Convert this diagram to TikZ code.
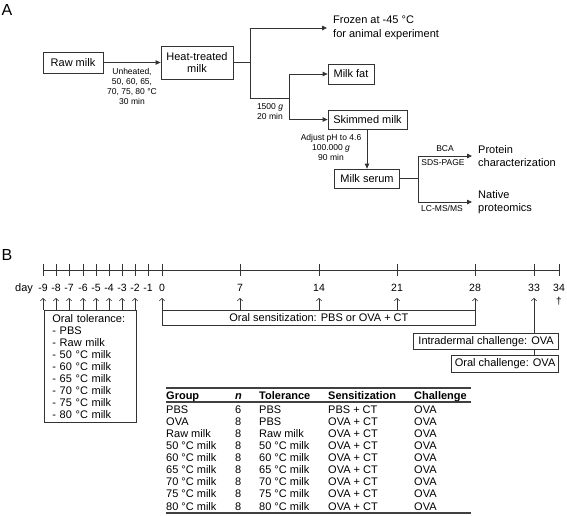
\documentclass[tikz,border=0pt]{standalone}
\usepackage{fontspec}
\setmainfont{Liberation Sans}
\usetikzlibrary{arrows.meta,positioning}

\begin{document}
\begin{tikzpicture}[x=1pt, y=-1pt]
    \tikzset{
        txt/.style={font=\fontsize{11}{13.5}\selectfont, align=left, inner xsep=6pt, inner ysep=0pt},
        box/.style={draw=black!80, line width=0.8pt, inner sep=2pt, font=\fontsize{11}{12}\selectfont, align=center},
        small/.style={font=\fontsize{8.5}{10}\selectfont, align=center, inner sep=0pt},
        panel/.style={font=\fontsize{16}{16}\selectfont, inner sep=0pt},
        flow line/.style={draw=black!80, line width=0.8pt},
        flow arrow/.style={-{Triangle[length=5pt, width=4.5pt]}, draw=black!80, line width=0.8pt},
        day arrow/.style={-{Straight Barb[length=2.5pt, width=5.5pt]}, draw=black!80, line width=0.6pt},
        tbox/.style={draw=black!80, line width=0.8pt, font=\fontsize{11}{12}\selectfont},
        cell/.style={font=\fontsize{11}{12}\selectfont, inner sep=0pt, anchor=base west},
        rule/.style={draw=black!75, line width=1.1pt},
    }
    \useasboundingbox (0,0) rectangle (567,515);

    % A: sample preparation
    \node[panel] (lblA) at (7,10) {A};

    \node[box, minimum width=60, minimum height=21] (raw) at (73,62.5) {Raw milk};
    \node[box, minimum width=72, minimum height=33] (heat) at (197,62.5) {Heat-treated\\milk};
    \draw[flow arrow] (raw) -- (heat);
    \node[small, anchor=north] (heatcond) at (132,68.5) {Unheated,\\50, 60, 65,\\70, 75, 80 °C\\30 min};

    \coordinate (split1) at (250,62.5);
    \coordinate (split2) at (289,98);
    \node[txt, anchor=west] (frozen) at (327,28) {Frozen at -45 °C\\for animal experiment};
    \draw[flow line] (heat.east) -- (split1);
    \draw[flow arrow] (split1) |- (frozen.west);
    \draw[flow line] (split1) |- (split2);
    \node[small, anchor=north] (spin) at (270,103.5) {1500 \textit{g}\\20 min};

    \node[box, minimum width=46, minimum height=20] (fat) at (351,74) {Milk fat};
    \node[box, minimum width=79, minimum height=19] (skim) at (367.5,119.5) {Skimmed milk};
    \draw[flow arrow] (split2) |- (fat.west);
    \draw[flow arrow] (split2) |- (skim.west);

    \node[box, minimum width=65, minimum height=19] (serum) at (367,178.5) {Milk serum};
    \draw[flow arrow] (serum.north |- skim.south) -- (serum.north);
    \node[small, anchor=north] (ultra) at (331,134.5) {Adjust pH to 4.6\\100.000 \textit{g}\\90 min};

    \coordinate (split3) at (418,178.5);
    \node[txt, anchor=west] (prot) at (472,156) {Protein\\characterization};
    \node[txt, anchor=west] (native) at (472,202) {Native\\proteomics};
    \draw[flow line] (serum.east) -- (split3);
    \draw[flow arrow] (split3) |- (prot.west);
    \draw[flow arrow] (split3) |- (native.west);
    \node[small, anchor=south] (bca) at (445,152) {BCA};
    \node[small, anchor=north] (sds) at (443,159) {SDS-PAGE};
    \node[small, anchor=north] (lcms) at (442,205.5) {LC-MS/MS};

    % B: immunization schedule
    \node[panel] (lblB) at (7,255) {B};
    \node[cell] (daylbl) at (15,291) {day};
    \foreach \d/\x in {-9/43,-8/56,-7/69,-6/83,-5/96,-4/109,-3/122,-2/135,-1/148,0/162,7/240,14/319,21/397,28/475,33/534,34/559} {
        \coordinate (t\d) at (\x,270);
        \draw[flow line] (\x,264) -- (\x,276);
        \node[font=\fontsize{10.5}{12}\selectfont, inner sep=0pt, anchor=base] (d\d) at (\x,291) {\d};
    }
    \draw[flow line] (t-9) -- (t34);

    \node[tbox, anchor=north west, align=left, text width=76, inner xsep=8pt, inner ysep=4pt, minimum height=110] (tol) at (44,310)
        {Oral tolerance:\\- PBS\\- Raw milk\\- 50 °C milk\\- 60 °C milk\\- 65 °C milk\\- 70 °C milk\\- 75 °C milk\\- 80 °C milk};
    \foreach \d in {-9,-8,-7,-6,-5,-4,-3,-2}
        \draw[day arrow] (t\d |- tol.north) -- ++(0,-12);

    \node[tbox, anchor=north west, minimum width=313, minimum height=15, inner sep=1pt] (sens) at (162,310) {Oral sensitization: PBS or OVA + CT};
    \foreach \d in {0,7,14,21,28}
        \draw[day arrow] (t\d |- sens.north) -- ++(0,-12);

    \node[tbox, anchor=north east, minimum width=145, minimum height=16, inner sep=1pt] (intra) at (559,333) {Intradermal challenge: OVA};
    \node[tbox, anchor=north east, minimum width=107, minimum height=17, inner sep=1pt] (oralch) at (559,355) {Oral challenge: OVA};
    \draw[flow line] (oralch.north -| t33) -- (intra.south -| t33);
    \draw[day arrow] (intra.north -| t33) -- ++(0,-35);
    \node[font=\fontsize{10}{10}\selectfont, inner sep=0pt] (death) at (559,301) {\dag};

    % group table
    \draw[rule] (166,388) -- (471,388);
    \draw[rule] (166,402) -- (471,402);
    \draw[rule] (166,513) -- (471,513);
    \node[cell] (hg) at (166,399) {\textbf{Group}};
    \node[cell] (hn) at (235,399) {\textbf{\textit{n}}};
    \node[cell] (ht) at (259,399) {\textbf{Tolerance}};
    \node[cell] (hs) at (328,399) {\textbf{Sensitization}};
    \node[cell] (hc) at (414,399) {\textbf{Challenge}};
    \foreach \g/\n/\t/\s [count=\i] in {PBS/6/PBS/PBS + CT, OVA/8/PBS/OVA + CT, Raw milk/8/Raw milk/OVA + CT,
        50 °C milk/8/50 °C milk/OVA + CT, 60 °C milk/8/60 °C milk/OVA + CT, 65 °C milk/8/65 °C milk/OVA + CT,
        70 °C milk/8/70 °C milk/OVA + CT, 75 °C milk/8/75 °C milk/OVA + CT, 80 °C milk/8/80 °C milk/OVA + CT} {
        \node[cell] (g\i) at (166,{400.875+12.125*\i}) {\g};
        \node[cell] (n\i) at (235,{400.875+12.125*\i}) {\n};
        \node[cell] (tl\i) at (259,{400.875+12.125*\i}) {\t};
        \node[cell] (s\i) at (328,{400.875+12.125*\i}) {\s};
        \node[cell] (c\i) at (414,{400.875+12.125*\i}) {OVA};
    }
\end{tikzpicture}
\end{document}
